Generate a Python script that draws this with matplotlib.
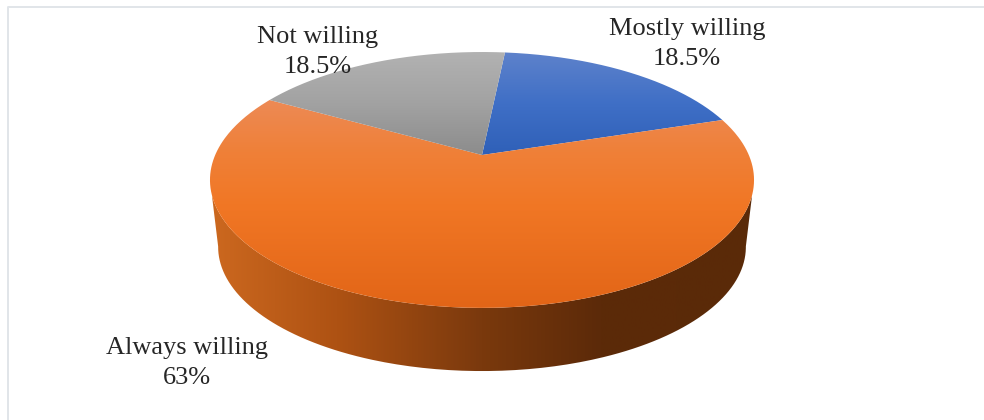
"""Willingness pie, drawn as a tilted 3D disc with gradient fills."""
import matplotlib
matplotlib.use("Agg")
import matplotlib.pyplot as plt
import numpy as np
from matplotlib.colors import LinearSegmentedColormap
from matplotlib.patches import PathPatch
from matplotlib.path import Path

labels = ["Mostly willing", "Always willing", "Not willing"]
values = [18.5, 63, 18.5]
value_text = ["18.5%", "63%", "18.5%"]

START_DEG = 5.9
PERSPECTIVE = 0.195
APEX = (482, 155)


def project(theta, scale=1.0, dy=0.0):
    # theta clockwise from the back of the disc, radians; output in pixels
    u, v = np.sin(theta), np.cos(theta)
    w = 1 + PERSPECTIVE * v
    x = APEX[0] + 266.8 * scale * u / w
    y = (APEX[1] - 92.85 * v) / w
    return x, 180 + (y - 180) * scale + dy


def gradient_fill(ax, path, stops, extent, horizontal=False):
    cmap = LinearSegmentedColormap.from_list("g", stops)
    ramp = np.linspace(0, 1, 256)
    grid = ramp[None, :] if horizontal else ramp[:, None]
    im = ax.imshow(grid, cmap=cmap, extent=extent, aspect="auto", origin="upper",
                   interpolation="bilinear", zorder=2)
    patch = PathPatch(path, transform=ax.transData, fc="none", ec="none")
    ax.add_patch(patch)
    im.set_clip_path(patch)


plt.rcParams["font.family"] = ["Liberation Serif", "DejaVu Serif"]

fig = plt.figure(figsize=(9.84, 4.2), dpi=100)
ax = fig.add_axes([0, 0, 1, 1])
ax.axis("off")

# frame of the pasted chart: left and top only
ax.plot([8, 8, 984], [420, 7, 7], color="#E1E5E9", lw=1.4, zorder=1)

# side wall, between the two widest points of the disc
t_front = np.radians(np.linspace(101, 259, 200))
xt, yt = project(t_front)
xb, yb = project(t_front, scale=0.97, dy=67)
side = Path(np.column_stack([np.r_[xt, xb[::-1], xt[0]], np.r_[yt, yb[::-1], yt[0]]]))
side_stops = [(0.0, "#CC681F"), (0.23, "#AE5213"), (0.5, "#7A390D"), (0.72, "#5C2A09"), (1.0, "#5A2A08")]
gradient_fill(ax, side, side_stops, (212, 752, 420, 0), horizontal=True)

# top face slices
slice_stops = [
    ["#5E82CB", "#3F6FC6", "#2F60B8"],
    [(0.0, "#ED8A55"), (0.25, "#EF8038"), (0.5, "#F17725"), (1.0, "#E26517")],
    ["#B2B2B2", "#A2A2A2", "#8C8C8C"],
]
angles = START_DEG + np.cumsum([0] + values) * 3.6
for i in range(len(values)):
    t = np.radians(np.linspace(angles[i], angles[i + 1], 300))
    x, y = project(t)
    pts = np.column_stack([np.r_[APEX[0], x, APEX[0]], np.r_[APEX[1], y, APEX[1]]])
    top, bottom = y.min(), max(y.max(), APEX[1])
    gradient_fill(ax, Path(pts), slice_stops[i], (200, 770, bottom, top))

# labels, slice order
label_xy = [(687, 44), (187, 363), (318, 52)]
for name, txt, (lx, ly) in zip(labels, value_text, label_xy):
    ax.text(lx, ly, f"{name}\n{txt}", ha="center", va="center", fontsize=19,
            color="#262626", linespacing=1.5, zorder=5)

ax.set_xlim(0, 984)
ax.set_ylim(420, 0)
fig.savefig("out.png", dpi=100)
